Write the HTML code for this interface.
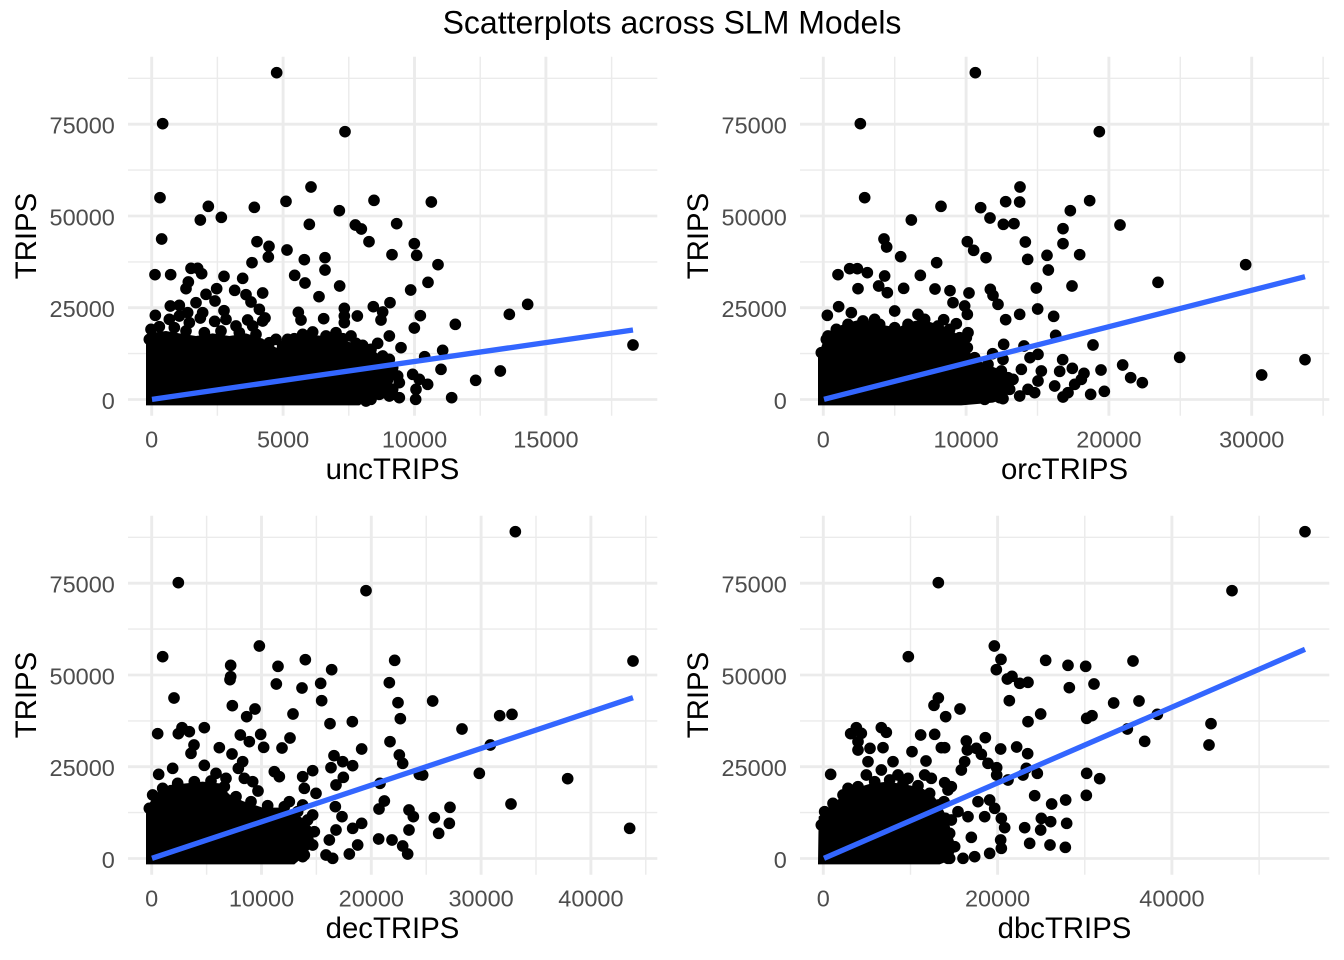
<!DOCTYPE html>
<html>
<head>
<meta charset="utf-8">
<style>
html,body{margin:0;padding:0;background:#fff;}
svg{display:block;}
text{font-family:"Liberation Sans",Arial,sans-serif;}
.yt{font-size:23.47px;fill:#4D4D4D;text-anchor:end;}
.xt{font-size:23.47px;fill:#4D4D4D;text-anchor:middle;}
.at{font-size:29.33px;fill:#000;text-anchor:middle;}
.mj{stroke:#EBEBEB;stroke-width:2.85;}
.mn{stroke:#EBEBEB;stroke-width:1.42;}
.pts{fill:none;stroke:#000;stroke-width:35;stroke-linecap:round;}
.fit{stroke:#3366FF;stroke-width:16;}
</style>
</head>
<body>
<svg width="1344" height="960" viewBox="0 0 1344 960" xmlns="http://www.w3.org/2000/svg">
<rect width="1344" height="960" fill="#fff"/>
<text x="672" y="33.5" text-anchor="middle" style="font-size:32px;fill:#000">Scatterplots across SLM Models</text>

<!-- PANEL 1 -->
<g>
<path class="mn" d="M128 78.3H657.3M128 170.1H657.3M128 261.9H657.3M128 353.6H657.3M217.4 56.7V415.8M348.8 56.7V415.8M480.2 56.7V415.8M611.6 56.7V415.8"/>
<path class="mj" d="M128 124.2H657.3M128 216H657.3M128 307.7H657.3M128 399.5H657.3M151.7 56.7V415.8M283.1 56.7V415.8M414.5 56.7V415.8M545.9 56.7V415.8"/>
<text class="yt" x="114.8" y="133.5">75000</text>
<text class="yt" x="114.8" y="225.3">50000</text>
<text class="yt" x="114.8" y="317">25000</text>
<text class="yt" x="114.8" y="408.8">0</text>
<text class="xt" x="151.7" y="447.7">0</text>
<text class="xt" x="283.1" y="447.7">5000</text>
<text class="xt" x="414.5" y="447.7">10000</text>
<text class="xt" x="545.9" y="447.7">15000</text>
<text class="at" x="392.5" y="479">uncTRIPS</text>
<text class="at" transform="translate(36,236) rotate(-90)">TRIPS</text>
<g transform="translate(136,56) scale(0.333333)">
<polygon fill="#000" points="30,1048 30,860 50,830 90,825 130,832 180,840 230,832 280,840 330,832 380,848 420,875 450,868 490,845 540,838 600,842 640,858 690,875 720,888 740,910 765,935 780,960 765,990 735,1008 700,1028 670,1048"/>
<path class="pts" d="M422 50h0.01M80 203h0.01M627 227h0.01M72 425h0.01M525 393h0.01M450 436h0.01M714 433h0.01M886 438h0.01M217 451h0.01M355 454h0.01M610 464h0.01M193 492h0.01M256 484h0.01M520 505h0.01M658 507h0.01M676 519h0.01M782 503h0.01M77 549h0.01M363 557h0.01M399 571h0.01M397 603h0.01M453 582h0.01M505 611h0.01M567 605h0.01M567 642h0.01M699 557h0.01M835 563h0.01M842 598h0.01M768 596h0.01M906 626h0.01M348 620h0.01M876 679h0.01M824 702h0.01M57 656h0.01M104 656h0.01M165 637h0.01M185 637h0.01M197 653h0.01M264 661h0.01M320 667h0.01M157 678h0.01M150 698h0.01M242 698h0.01M296 703h0.01M380 711h0.01M476 658h0.01M507 681h0.01M611 690h0.01M549 722h0.01M1175 745h0.01M1120 775h0.01M958 805h0.01M853 779h0.01M835 816h0.01M762 740h0.01M712 752h0.01M740 768h0.01M735 792h0.01M664 780h0.01M625 757h0.01M625 780h0.01M625 800h0.01M563 788h0.01M487 769h0.01M495 792h0.01M387 786h0.01M335 792h0.01M370 760h0.01M345 738h0.01M330 716h0.01M58 778h0.01M103 750h0.01M130 748h0.01M155 770h0.01M193 786h0.01M236 796h0.01M264 764h0.01M180 740h0.01M210 715h0.01M237 735h0.01M1491 867h0.01M1093 945h0.01M1019 973h0.01M947 1025h0.01M839 1030h0.01M875 985h0.01M915 940h0.01M920 883h0.01M866 902h0.01M795 875h0.01M760 840h0.01M760 910h0.01M790 980h0.01M790 1025h0.01M760 1020h0.01M840 1000h0.01M100 790h0.01M130 780h0.01M160 800h0.01M200 770h0.01M270 790h0.01M300 810h0.01M350 810h0.01M380 795h0.01M420 850h0.01M455 850h0.01M500 835h0.01M530 828h0.01M600 830h0.01M645 840h0.01M680 868h0.01M725 862h0.01M700 965h0.01M720 990h0.01M750 1000h0.01M705 1030h0.01M830 955h0.01M850 970h0.01M45 820h0.01M70 812h0.01M40 850h0.01M115 815h0.01M150 825h0.01M205 830h0.01M255 825h0.01M310 830h0.01M360 835h0.01M400 860h0.01M440 870h0.01M475 848h0.01M515 840h0.01M570 840h0.01M620 848h0.01M660 862h0.01M705 880h0.01M740 900h0.01M770 935h0.01M785 960h0.01M770 1000h0.01M730 1015h0.01M690 1035h0.01"/>
<line class="fit" x1="48" y1="1030" x2="1491" y2="822"/>
</g>
</g>

<!-- PANEL 2 -->
<g>
<path class="mn" d="M800 78.3H1329.3M800 170.1H1329.3M800 261.9H1329.3M800 353.6H1329.3M894.7 56.7V415.8M1037.5 56.7V415.8M1180.3 56.7V415.8M1323.1 56.7V415.8"/>
<path class="mj" d="M800 124.2H1329.3M800 216H1329.3M800 307.7H1329.3M800 399.5H1329.3M823.3 56.7V415.8M966.1 56.7V415.8M1108.9 56.7V415.8M1251.7 56.7V415.8"/>
<text class="yt" x="786.8" y="133.5">75000</text>
<text class="yt" x="786.8" y="225.3">50000</text>
<text class="yt" x="786.8" y="317">25000</text>
<text class="yt" x="786.8" y="408.8">0</text>
<text class="xt" x="823.3" y="447.7">0</text>
<text class="xt" x="966.1" y="447.7">10000</text>
<text class="xt" x="1108.9" y="447.7">20000</text>
<text class="xt" x="1251.7" y="447.7">30000</text>
<text class="at" x="1064.5" y="479">orcTRIPS</text>
<text class="at" transform="translate(708,236) rotate(-90)">TRIPS</text>
<g transform="translate(808,56) scale(0.333333)">
<polygon fill="#000" points="30,1048 30,900 50,845 80,815 120,800 160,790 190,795 230,808 270,815 300,800 340,790 380,802 420,815 455,840 475,870 495,905 535,925 575,940 600,962 610,1000 590,1028 555,1040 460,1048"/>
<path class="pts" d="M502 50h0.01M157 203h0.01M874 227h0.01M170 425h0.01M636 393h0.01M593 437h0.01M635 438h0.01M845 434h0.01M399 451h0.01M518 455h0.01M787 464h0.01M310 492h0.01M546 486h0.01M586 505h0.01M618 503h0.01M936 507h0.01M765 518h0.01M228 549h0.01M236 573h0.01M478 557h0.01M497 583h0.01M534 605h0.01M652 558h0.01M659 610h0.01M717 598h0.01M765 563h0.01M815 596h0.01M721 642h0.01M278 602h0.01M386 620h0.01M1313 626h0.01M1050 679h0.01M792 690h0.01M685 696h0.01M337 658h0.01M381 699h0.01M426 704h0.01M483 711h0.01M547 700h0.01M555 718h0.01M570 745h0.01M689 759h0.01M737 781h0.01M635 775h0.01M593 791h0.01M287 697h0.01M90 656h0.01M125 638h0.01M148 638h0.01M178 650h0.01M230 660h0.01M212 690h0.01M238 710h0.01M150 698h0.01M92 752h0.01M58 778h0.01M130 770h0.01M260 765h0.01M407 791h0.01M445 803h0.01M435 740h0.01M470 750h0.01M478 775h0.01M480 830h0.01M475 845h0.01M1115 904h0.01M1491 911h0.01M1361 957h0.01M944 927h0.01M968 965h0.01M1003 980h0.01M879 942h0.01M855 867h0.01M889 1006h0.01M848 1015h0.01M764 911h0.01M793 937h0.01M755 946h0.01M828 952h0.01M820 970h0.01M800 985h0.01M780 1010h0.01M765 1023h0.01M740 990h0.01M700 945h0.01M690 975h0.01M680 1010h0.01M635 1020h0.01M660 1000h0.01M743 838h0.01M648 870h0.01M587 865h0.01M554 893h0.01M585 910h0.01M666 905h0.01M690 895h0.01M640 940h0.01M575 1025h0.01M530 1030h0.01M500 1010h0.01M615 970h0.01M200 790h0.01M330 775h0.01M350 790h0.01M60 840h0.01M40 890h0.01M55 850h0.01M85 820h0.01M120 805h0.01M165 795h0.01M215 805h0.01M260 815h0.01M300 805h0.01M345 795h0.01M390 810h0.01M425 820h0.01M455 845h0.01M478 875h0.01M500 905h0.01M540 925h0.01M580 945h0.01M600 965h0.01M605 1000h0.01M585 1028h0.01"/>
<line class="fit" x1="48" y1="1030" x2="1491" y2="662"/>
</g>
</g>

<!-- PANEL 3 -->
<g>
<path class="mn" d="M128 537.3H657.3M128 629.1H657.3M128 720.9H657.3M128 812.6H657.3M206.6 515.7V874.8M316.4 515.7V874.8M426.2 515.7V874.8M536 515.7V874.8M645.8 515.7V874.8"/>
<path class="mj" d="M128 583.2H657.3M128 675H657.3M128 766.7H657.3M128 858.5H657.3M151.7 515.7V874.8M261.5 515.7V874.8M371.3 515.7V874.8M481.1 515.7V874.8M590.9 515.7V874.8"/>
<text class="yt" x="114.8" y="592.5">75000</text>
<text class="yt" x="114.8" y="684.3">50000</text>
<text class="yt" x="114.8" y="776">25000</text>
<text class="yt" x="114.8" y="867.8">0</text>
<text class="xt" x="151.7" y="906.7">0</text>
<text class="xt" x="261.5" y="906.7">10000</text>
<text class="xt" x="371.3" y="906.7">20000</text>
<text class="xt" x="481.1" y="906.7">30000</text>
<text class="xt" x="590.9" y="906.7">40000</text>
<text class="at" x="392.5" y="938">decTRIPS</text>
<text class="at" transform="translate(36,695) rotate(-90)">TRIPS</text>
<g transform="translate(136,515) scale(0.333333)">
<polygon fill="#000" points="30,1048 30,880 60,835 100,810 150,805 200,800 250,805 280,838 320,858 380,878 440,878 475,892 500,910 525,935 535,980 510,1018 475,1048"/>
<path class="pts" d="M1138 50h0.01M127 203h0.01M690 227h0.01M80 425h0.01M370 393h0.01M508 434h0.01M776 436h0.01M1491 438h0.01M284 451h0.01M426 454h0.01M587 464h0.01M284 485h0.01M282 494h0.01M421 507h0.01M498 519h0.01M554 505h0.01M760 503h0.01M114 549h0.01M289 572h0.01M357 582h0.01M332 605h0.01M471 597h0.01M557 557h0.01M786 563h0.01M890 558h0.01M793 611h0.01M582 626h0.01M649 620h0.01M1091 602h0.01M1128 598h0.01M978 642h0.01M1063 690h0.01M762 680h0.01M677 702h0.01M438 699h0.01M462 669h0.01M374 658h0.01M383 697h0.01M313 660h0.01M340 680h0.01M205 638h0.01M138 638h0.01M127 656h0.01M65 656h0.01M160 650h0.01M174 690h0.01M165 715h0.01M205 751h0.01M250 698h0.01M288 717h0.01M320 740h0.01M307 760h0.01M594 722h0.01M620 740h0.01M650 752h0.01M585 758h0.01M622 787h0.01M600 810h0.01M790 720h0.01M800 745h0.01M850 778h0.01M860 780h0.01M1030 775h0.01M1295 791h0.01M1125 867h0.01M1481 940h0.01M732 805h0.01M530 767h0.01M500 785h0.01M505 820h0.01M540 835h0.01M415 770h0.01M430 785h0.01M325 790h0.01M350 800h0.01M366 828h0.01M68 778h0.01M110 760h0.01M942 877h0.01M895 908h0.01M940 925h0.01M908 955h0.01M819 885h0.01M832 905h0.01M819 945h0.01M728 972h0.01M768 975h0.01M800 993h0.01M815 1017h0.01M745 858h0.01M729 882h0.01M598 875h0.01M618 905h0.01M677 925h0.01M650 940h0.01M665 990h0.01M640 1017h0.01M590 1030h0.01M570 1020h0.01M600 945h0.01M580 975h0.01M500 1025h0.01M460 860h0.01M500 870h0.01M530 900h0.01M240 775h0.01M270 790h0.01M50 840h0.01M40 880h0.01M80 820h0.01M125 805h0.01M175 800h0.01M225 798h0.01M265 815h0.01M300 845h0.01M345 860h0.01M395 872h0.01M445 875h0.01M485 890h0.01M515 915h0.01M535 950h0.01M530 990h0.01M505 1020h0.01"/>
<line class="fit" x1="48" y1="1030" x2="1491" y2="548"/>
</g>
</g>

<!-- PANEL 4 -->
<g>
<path class="mn" d="M800 537.3H1329.3M800 629.1H1329.3M800 720.9H1329.3M800 812.6H1329.3M910.5 515.7V874.8M1084.8 515.7V874.8M1259.1 515.7V874.8"/>
<path class="mj" d="M800 583.2H1329.3M800 675H1329.3M800 766.7H1329.3M800 858.5H1329.3M823.3 515.7V874.8M997.6 515.7V874.8M1171.9 515.7V874.8"/>
<text class="yt" x="786.8" y="592.5">75000</text>
<text class="yt" x="786.8" y="684.3">50000</text>
<text class="yt" x="786.8" y="776">25000</text>
<text class="yt" x="786.8" y="867.8">0</text>
<text class="xt" x="823.3" y="906.7">0</text>
<text class="xt" x="997.6" y="906.7">20000</text>
<text class="xt" x="1171.9" y="906.7">40000</text>
<text class="at" x="1064.5" y="938">dbcTRIPS</text>
<text class="at" transform="translate(708,695) rotate(-90)">TRIPS</text>
<g transform="translate(808,515) scale(0.333333)">
<polygon fill="#000" points="30,1048 32,905 60,880 100,845 140,820 190,805 240,800 290,808 340,818 375,840 400,875 420,912 432,960 445,1000 428,1035 395,1048"/>
<path class="pts" d="M1491 50h0.01M391 203h0.01M1272 227h0.01M301 425h0.01M559 393h0.01M579 433h0.01M565 464h0.01M713 436h0.01M780 451h0.01M833 454h0.01M975 438h0.01M598 492h0.01M612 484h0.01M635 505h0.01M660 502h0.01M784 518h0.01M858 507h0.01M604 557h0.01M917 564h0.01M993 558h0.01M391 549h0.01M378 571h0.01M456 582h0.01M413 605h0.01M698 597h0.01M660 620h0.01M836 610h0.01M852 602h0.01M1048 598h0.01M958 642h0.01M1010 679h0.01M1209 626h0.01M1203 690h0.01M128 656h0.01M145 638h0.01M160 655h0.01M220 638h0.01M235 652h0.01M150 680h0.01M150 705h0.01M186 700h0.01M225 698h0.01M338 660h0.01M380 658h0.01M312 710h0.01M354 738h0.01M255 740h0.01M400 698h0.01M410 698h0.01M475 678h0.01M532 668h0.01M478 705h0.01M505 700h0.01M520 718h0.01M578 702h0.01M626 696h0.01M659 716h0.01M470 740h0.01M460 765h0.01M540 745h0.01M566 758h0.01M566 780h0.01M600 795h0.01M645 780h0.01M655 760h0.01M688 775h0.01M836 775h0.01M875 791h0.01M835 841h0.01M680 842h0.01M731 867h0.01M773 855h0.01M700 910h0.01M728 920h0.01M776 925h0.01M650 938h0.01M698 945h0.01M665 985h0.01M726 990h0.01M772 997h0.01M68 778h0.01M180 740h0.01M175 780h0.01M220 765h0.01M410 803h0.01M430 815h0.01M370 790h0.01M350 780h0.01M510 860h0.01M545 855h0.01M560 880h0.01M580 910h0.01M590 938h0.01M578 975h0.01M580 1000h0.01M545 1015h0.01M500 1025h0.01M465 1030h0.01M420 1030h0.01M490 967h0.01M480 905h0.01M450 890h0.01M530 905h0.01M430 915h0.01M408 860h0.01M420 825h0.01M120 820h0.01M270 780h0.01M300 790h0.01M50 890h0.01M40 930h0.01M75 865h0.01M105 840h0.01M150 815h0.01M200 800h0.01M245 795h0.01M285 805h0.01M330 812h0.01M365 835h0.01M392 870h0.01M412 910h0.01M425 955h0.01M440 995h0.01M425 1030h0.01"/>
<line class="fit" x1="48" y1="1030" x2="1491" y2="403"/>
</g>
</g>
</svg>
</body>
</html>
